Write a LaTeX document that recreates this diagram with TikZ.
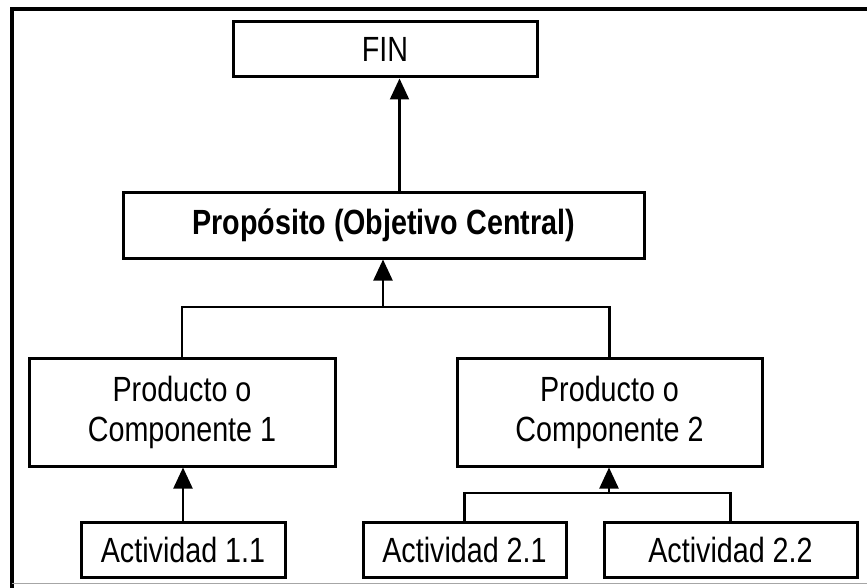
\documentclass[tikz,border=0pt]{standalone}
\usepackage{fontspec}
\setmainfont{Liberation Sans}[FakeStretch=0.82]
\usetikzlibrary{arrows.meta}
\begin{document}
\begin{tikzpicture}[x=1pt,y=-1pt,
  box/.style={draw, line width=3pt, align=center, inner sep=0pt,
              font=\fontsize{35}{40}\selectfont},
  link/.style={line width=2.2pt},
  arr/.style={link, -{Triangle[length=21pt,width=19pt]}}]
\useasboundingbox (0,0) rectangle (867,588);
\fill[white] (0,0) rectangle (867,588);
% outer frame (open on the right)
\draw[line width=4pt] (867,9.5) -| (11.5,588);
\draw[black!35, line width=1.2pt] (11.5,583.5) -- (867,583.5);

% boxes
\node[box, minimum width=304pt, minimum height=55pt] (fin) at (385,49.5) {FIN};
\node[box, minimum width=521pt, minimum height=65pt, font=\fontsize{35}{40}\selectfont\bfseries] (prop) at (383.5,225.5) {Propósito (Objetivo Central)};
\node[box, minimum width=306pt, minimum height=108pt] (p1) at (182,412) {Producto o\\Componente 1};
\node[box, minimum width=305pt, minimum height=108pt] (p2) at (609.5,412) {Producto o\\Componente 2};
\node[box, minimum width=204pt, minimum height=55pt] (a11) at (183,549.5) {Actividad 1.1};
\node[box, minimum width=203pt, minimum height=55pt] (a21) at (464.5,549.5) {Actividad 2.1};
\node[box, minimum width=253pt, minimum height=55pt] (a22) at (730.5,549.5) {Actividad 2.2};

% junction points
\coordinate (j1) at (383,307);
\coordinate (j2) at (609,493);

% connectors
\draw[arr] ([xshift=16pt]prop.north) -- ([xshift=16pt]prop.north |- fin.south);
\draw[link] (p1.north) |- (j1) -| (p2.north);
\draw[arr] (j1) -- (j1 |- prop.south);
\draw[arr] (a11.north) -- (a11.north |- p1.south);
\draw[link] (a21.north) |- (j2) -| (a22.north);
\draw[arr] (j2) -- (j2 |- p2.south);
\end{tikzpicture}
\end{document}
